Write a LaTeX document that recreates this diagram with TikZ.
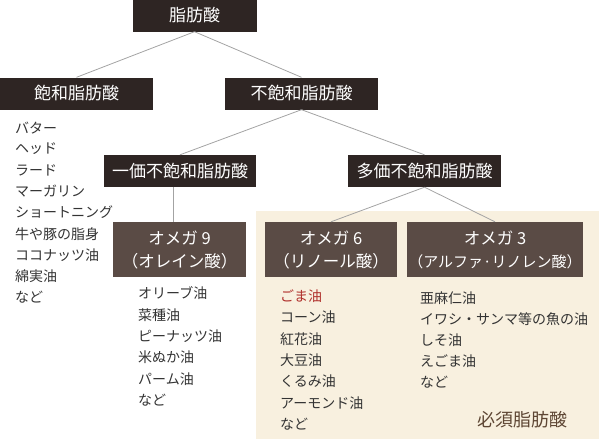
\documentclass[tikz,border=0pt]{standalone}
\usepackage{fontspec}
\setmainfont{Noto Sans CJK JP}
\definecolor{darkbox}{HTML}{2E2523}
\definecolor{omegabox}{HTML}{5A4B45}
\definecolor{cream}{HTML}{F8F0DF}
\definecolor{linegray}{HTML}{A3A3A3}
\definecolor{listtext}{HTML}{333333}
\definecolor{redtext}{HTML}{B0302C}
\definecolor{brtext}{HTML}{5E4634}
\begin{document}
\begin{tikzpicture}[x=1pt,y=-1pt,
  dbox/.style={fill=darkbox,text=white,inner sep=0pt,font=\fontsize{17}{19}\selectfont,minimum height=32pt},
  obox/.style={fill=omegabox,text=white,inner sep=0pt,font=\fontsize{16.5}{23}\selectfont,minimum height=55pt,align=center},
  conn/.style={draw=linegray,line width=0.8pt},
  item/.style={anchor=west,inner sep=0pt,text=listtext,font=\fontsize{14}{16}\selectfont}]
\useasboundingbox (0,0) rectangle (599,439);
\fill[cream] (256,211) rectangle (599,439);
% boxes
\node[dbox,minimum width=124pt] (fa) at (194.5,15.5) {脂肪酸};
\node[dbox,minimum width=153pt] (sat) at (76.5,93.5) {飽和脂肪酸};
\node[dbox,minimum width=153pt] (unsat) at (301.5,93.5) {不飽和脂肪酸};
\node[dbox,minimum width=152pt] (mono) at (180,171) {一価不飽和脂肪酸};
\node[dbox,minimum width=153pt] (poly) at (424.5,171) {多価不飽和脂肪酸};
\node[obox,minimum width=133pt] (o9) at (179.5,249.5) {オメガ 9\\（オレイン酸）};
\node[obox,minimum width=132pt] (o6) at (331,249.5) {オメガ 6\\（リノール酸）};
\node[obox,minimum width=176pt] (o3) at (495,249.5) {オメガ 3\\\makebox[0pt]{\fontsize{15}{23}\selectfont（アルファ·リノレン酸）}};
% connectors
\draw[conn] (fa.south) -- (sat.north);
\draw[conn] (fa.south) -- (unsat.north);
\draw[conn] (unsat.south) -- (mono.north);
\draw[conn] (unsat.south) -- (poly.north);
\draw[conn] (mono.south -| 173,0) coordinate (m1) -- (m1 |- o9.north);
\draw[conn] (poly.south) -- (o6.north);
\draw[conn] (poly.south) -- (o3.north);
% lists
\node[item] (s1) at (15,128) {バター};
\node[item] (s2) at (15,149) {ヘッド};
\node[item] (s3) at (15,170.5) {ラード};
\node[item] (s4) at (15,191.5) {マーガリン};
\node[item] (s5) at (15,212.5) {ショートニング};
\node[item] (s6) at (15,234) {牛や豚の脂身};
\node[item] (s7) at (15,255) {ココナッツ油};
\node[item] (s8) at (15,276.5) {綿実油};
\node[item] (s9) at (15,297.5) {など};
\node[item] (a1) at (138,293.5) {オリーブ油};
\node[item] (a2) at (138,315) {菜種油};
\node[item] (a3) at (138,336.5) {ピーナッツ油};
\node[item] (a4) at (138,357.5) {米ぬか油};
\node[item] (a5) at (138,379) {パーム油};
\node[item] (a6) at (138,400.5) {など};
\node[item,text=redtext] (b1) at (280,296) {ごま油};
\node[item] (b2) at (280,317.5) {コーン油};
\node[item] (b3) at (280,339) {紅花油};
\node[item] (b4) at (280,360) {大豆油};
\node[item] (b5) at (280,381.5) {くるみ油};
\node[item] (b6) at (280,403) {アーモンド油};
\node[item] (b7) at (280,424.5) {など};
\node[item] (c1) at (420,298) {亜麻仁油};
\node[item] (c2) at (420,319) {イワシ・サンマ等の魚の油};
\node[item] (c3) at (420,340.5) {しそ油};
\node[item] (c4) at (420,361.5) {えごま油};
\node[item] (c5) at (420,382.5) {など};
\node[anchor=west,inner sep=0pt,text=brtext,font=\fontsize{18}{20}\selectfont] (ess) at (477,420) {必須脂肪酸};
\end{tikzpicture}
\end{document}
